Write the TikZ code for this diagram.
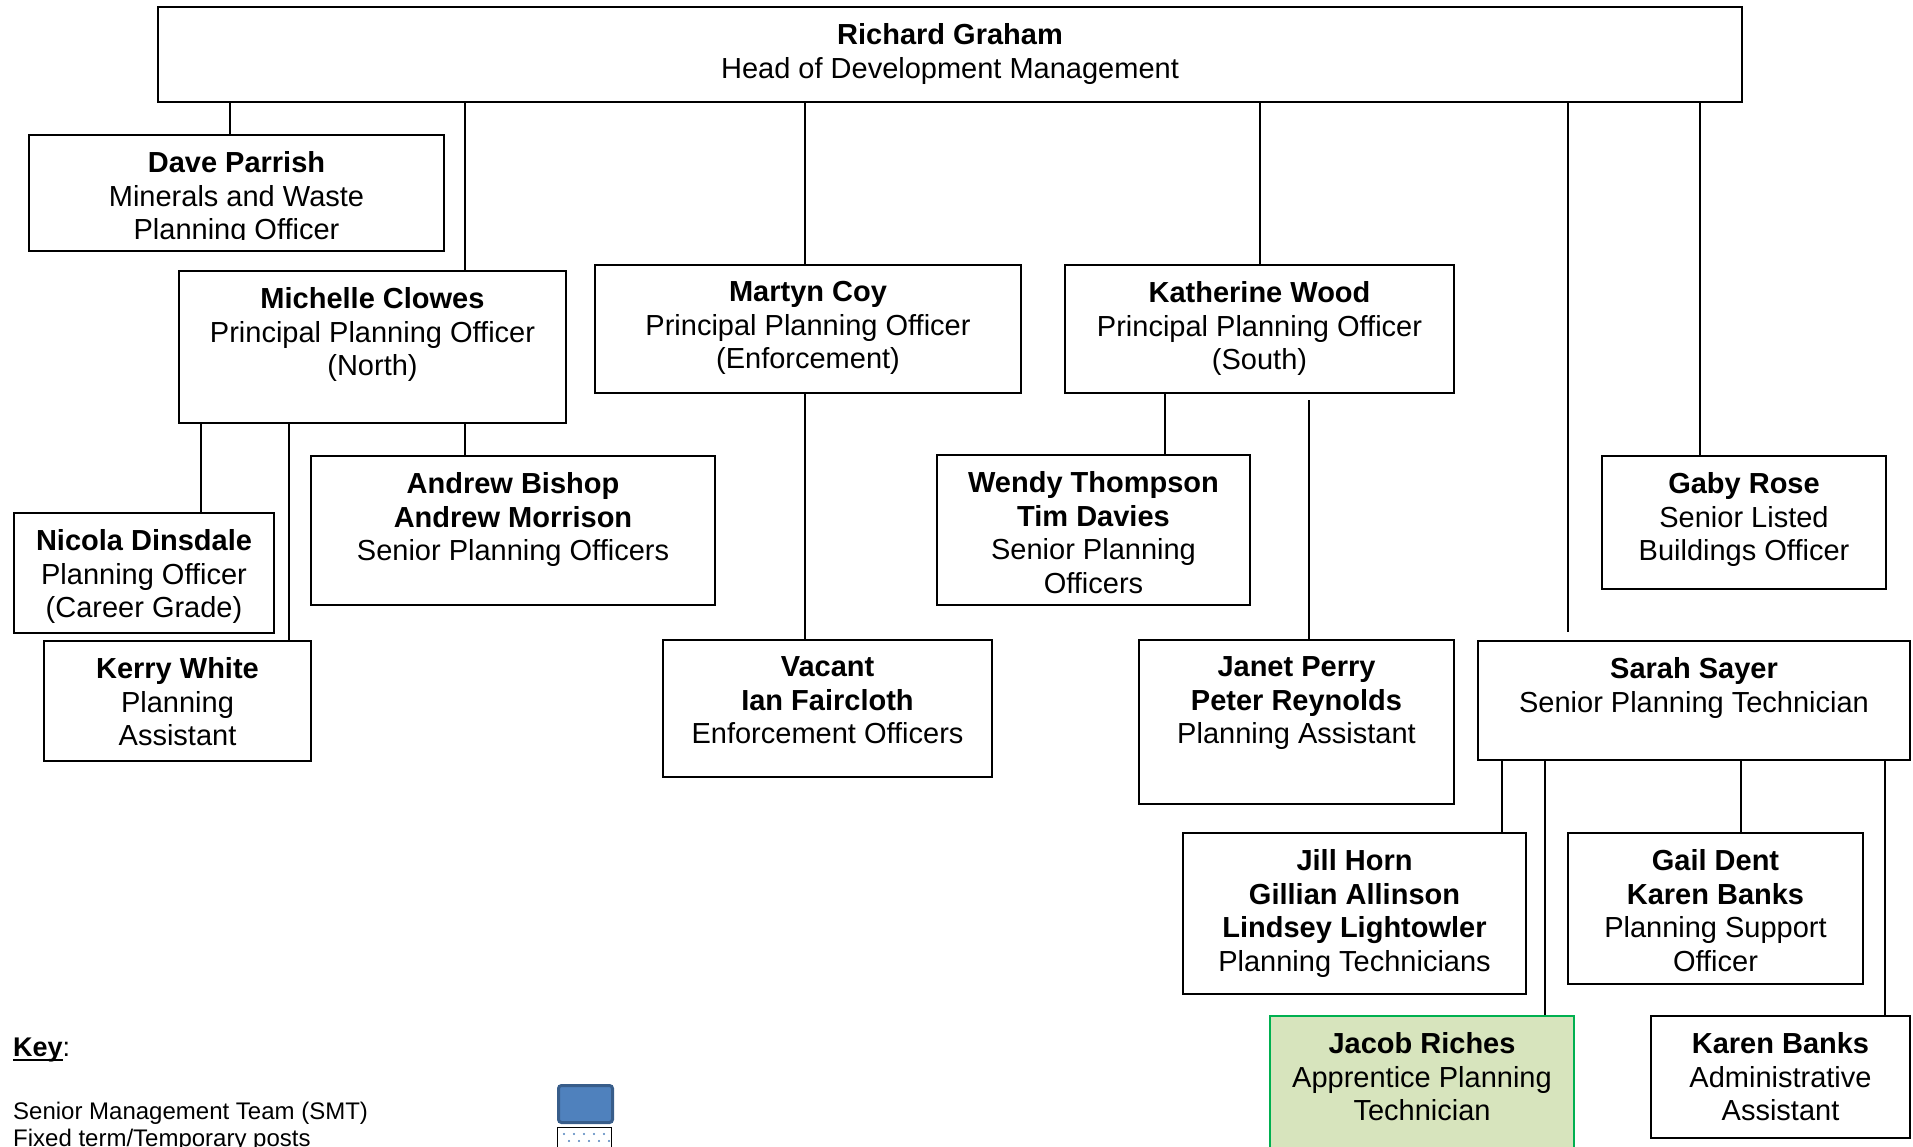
\documentclass[tikz,border=0pt]{standalone}
\usepackage{fontspec}
\setmainfont{Liberation Sans}
\newcommand\myul[1]{\leavevmode\setbox0\hbox{#1}\rlap{\rule[-5pt]{\wd0}{2.6pt}}\box0}
\definecolor{smtfill}{HTML}{4F81BD}
\definecolor{smtline}{HTML}{385D8A}
\definecolor{apfill}{HTML}{D7E4BD}
\definecolor{apline}{HTML}{00B050}
\definecolor{dotblue}{HTML}{4F81BD}
\tikzset{
  box/.style={draw=black, line width=2pt, fill=white, inner sep=0pt, rectangle},
  apbox/.style={draw=apline, line width=2pt, fill=apfill, inner sep=0pt, rectangle},
  txt/.style={inner sep=0pt, align=center, font=\fontsize{29}{33.5}\selectfont},
  keytxt/.style={inner sep=0pt, anchor=west, font=\fontsize{24}{27.6}\selectfont},
  conn/.style={draw=black, line width=1.6pt}
}
\newcommand\obox[6][box]{%
  \node[#1, anchor=north west, minimum width={(#5-#3)*1pt}, minimum height={(#6-#4)*1pt}] (#2) at (#3,#4) {};}
\newcommand\otext[2]{%
  \node[txt, anchor=north] (#1t) at ([yshift=-17.5pt]#1.north) {#2};}
\begin{document}
\begin{tikzpicture}[x=1pt,y=-1pt]
\useasboundingbox (0,0) rectangle (1913,1147);
\clip (0,0) rectangle (1913,1147);
\fill[white] (0,0) rectangle (1913,1147);

% boxes
\obox{rg}{157}{6}{1741}{101}
\obox{dp}{28}{134}{443}{250}
\obox{mc}{178}{270}{565}{422}
\obox{my}{594}{264}{1020}{392}
\obox{kw}{1064}{264}{1453}{392}
\obox{nd}{13}{512}{273}{632}
\obox{ab}{310}{455}{714}{604}
\obox{kwh}{43}{640}{310}{760}
\obox{va}{662}{639}{991}{776}
\obox{wt}{936}{454}{1249}{604}
\obox{jp}{1138}{639}{1453}{803}
\obox{gr}{1601}{455}{1885}{588}
\obox{ss}{1477}{640}{1909}{759}
\obox{jh}{1182}{832}{1525}{993}
\obox{gd}{1567}{832}{1862}{983}
\obox[apbox]{jr}{1269}{1015}{1573}{1165}
\obox{kb}{1650}{1015}{1909}{1137}

% connectors from Richard Graham
\draw[conn] (230,0 |- rg.south) -- (230,0 |- dp.north);
\draw[conn] (465,0 |- rg.south) -- (465,0 |- mc.north);
\draw[conn] (805,0 |- rg.south) -- (805,0 |- my.north);
\draw[conn] (1260,0 |- rg.south) -- (1260,0 |- kw.north);
\draw[conn] (1568,0 |- rg.south) -- ([yshift=8pt]1568,0 |- ss.north);
\draw[conn] (1700,0 |- rg.south) -- (1700,0 |- gr.north);
% from Michelle Clowes
\draw[conn] (201,0 |- mc.south) -- (201,0 |- nd.north);
\draw[conn] (289,0 |- mc.south) -- (289,0 |- kwh.north);
\draw[conn] (465,0 |- mc.south) -- (465,0 |- ab.north);
% from Martyn Coy
\draw[conn] (805,0 |- my.south) -- (805,0 |- va.north);
% from Katherine Wood
\draw[conn] (1165,0 |- kw.south) -- (1165,0 |- wt.north);
\draw[conn] ([yshift=-6pt]1309,0 |- kw.south) -- (1309,0 |- jp.north);
% from Sarah Sayer
\draw[conn] (1502,0 |- ss.south) -- (1502,0 |- jh.north);
\draw[conn] (1545,0 |- ss.south) -- (1545,0 |- jr.north);
\draw[conn] (1741,0 |- ss.south) -- (1741,0 |- gd.north);
\draw[conn] (1885,0 |- ss.south) -- (1885,0 |- kb.north);

% texts
\otext{rg}{\textbf{Richard Graham}\\Head of Development Management}
\begin{scope}
\clip (28,134) rectangle (443,240);
\otext{dp}{\textbf{Dave Parrish}\\Minerals and Waste\\Planning Officer}
\end{scope}
\otext{mc}{\textbf{Michelle Clowes}\\Principal Planning Officer\\(North)}
\otext{my}{\textbf{Martyn Coy}\\Principal Planning Officer\\(Enforcement)}
\otext{kw}{\textbf{Katherine Wood}\\Principal Planning Officer\\(South)}
\otext{nd}{\textbf{Nicola Dinsdale}\\Planning Officer\\(Career Grade)}
\otext{ab}{\textbf{Andrew Bishop}\\\textbf{Andrew Morrison}\\Senior Planning Officers}
\otext{kwh}{\textbf{Kerry White}\\Planning\\Assistant}
\otext{va}{\textbf{Vacant}\\\textbf{Ian Faircloth}\\Enforcement Officers}
\otext{wt}{\textbf{Wendy Thompson}\\\textbf{Tim Davies}\\Senior Planning\\Officers}
\otext{jp}{\textbf{Janet Perry}\\\textbf{Peter Reynolds}\\Planning Assistant}
\otext{gr}{\textbf{Gaby Rose}\\Senior Listed\\Buildings Officer}
\otext{ss}{\textbf{Sarah Sayer}\\Senior Planning Technician}
\otext{jh}{\textbf{Jill Horn}\\\textbf{Gillian Allinson}\\\textbf{Lindsey Lightowler}\\Planning Technicians}
\otext{gd}{\textbf{Gail Dent}\\\textbf{Karen Banks}\\Planning Support\\Officer}
\otext{jr}{\textbf{Jacob Riches}\\Apprentice Planning\\Technician}
\otext{kb}{\textbf{Karen Banks}\\Administrative\\Assistant}

% key
\node[keytxt, font=\fontsize{27}{31}\selectfont] (key) at (13,1050) {\myul{\textbf{Key}}:};
\node[keytxt] (smt) at (13,1113) {Senior Management Team (SMT)};
\node[keytxt] (fix) at (13,1140.5) {Fixed term/Temporary posts};
\node[draw=smtline, fill=smtfill, line width=3pt, rounded corners=3pt, inner sep=0pt,
      anchor=north west, minimum width=54pt, minimum height=37pt] (smtkey) at (557,1084) {};
\node[draw=black, fill=white, line width=1pt, inner sep=0pt,
      anchor=north west, minimum width=54pt, minimum height=40pt] (fixkey) at (557,1127) {};
\foreach \r in {0,1,2} {
  \foreach \c in {0,1,2,3,4} {
    \pgfmathsetmacro{\dx}{564+\c*10+mod(\r,2)*5}
    \pgfmathsetmacro{\dy}{1134+\r*7}
    \fill[dotblue] (\dx,\dy) circle (1.2pt);
  }
}
\end{tikzpicture}
\end{document}
